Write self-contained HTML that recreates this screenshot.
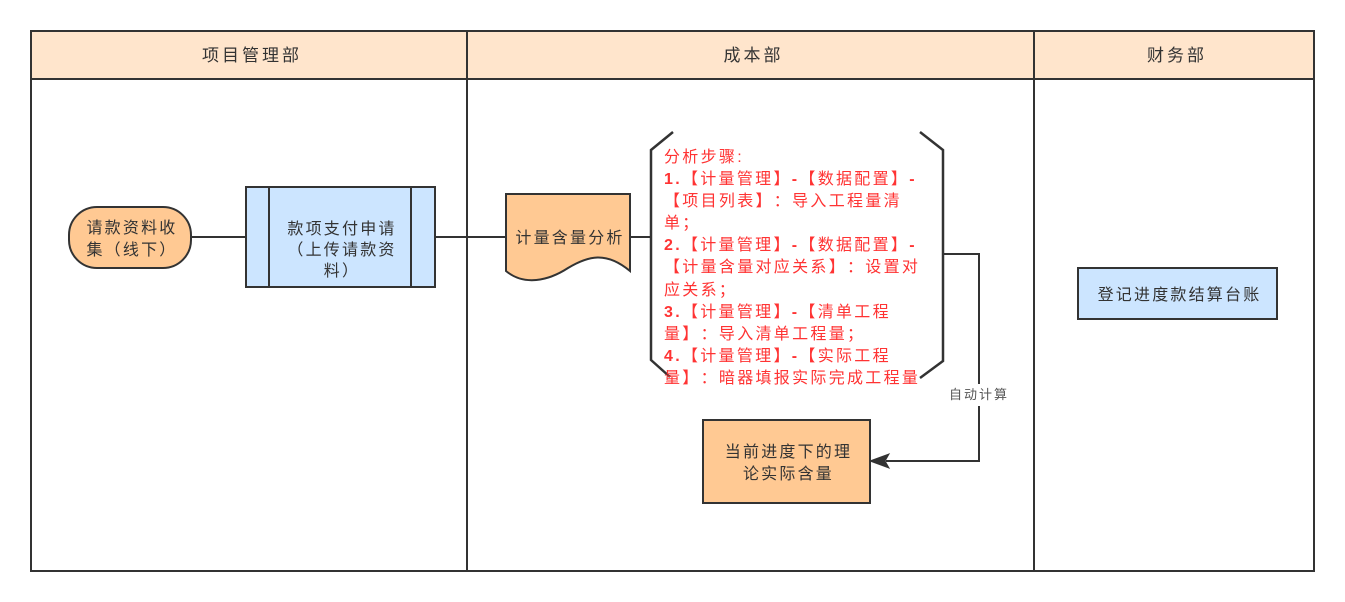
<!DOCTYPE html>
<html>
<head>
<meta charset="utf-8">
<style>
  html,body{margin:0;padding:0;background:#fff;}
  body{width:1345px;height:602px;position:relative;overflow:hidden;
       font-family:"Liberation Sans","Noto Sans CJK SC",sans-serif;text-spacing-trim:space-all;}
  svg{position:absolute;left:0;top:0;}
  .t{position:absolute;color:#333;font-size:16px;letter-spacing:2.2px;text-align:center;white-space:nowrap;line-height:21px;text-spacing-trim:space-all;}
  .h{position:absolute;color:#333;font-size:17px;letter-spacing:3px;text-align:center;white-space:nowrap;top:45px;line-height:22px;}
  .red{position:absolute;left:664px;top:147px;color:#ff3333;font-size:16px;letter-spacing:2.3px;line-height:22.1px;white-space:nowrap;text-spacing-trim:space-all;}
  .red b{font-weight:bold;}
  .lbl{position:absolute;left:945px;top:384px;width:68px;height:22px;background:#fff;color:#555;font-size:13px;letter-spacing:2px;line-height:22px;text-align:center;white-space:nowrap;}
</style>
</head>
<body>
<svg width="1345" height="602" viewBox="0 0 1345 602">
  <rect x="31" y="31" width="1283" height="48" fill="#ffe5cc"/>
  <rect x="31" y="31" width="1283" height="540" fill="none" stroke="#333" stroke-width="2"/>
  <line x1="31" y1="79" x2="1314" y2="79" stroke="#333" stroke-width="2"/>
  <line x1="467" y1="31" x2="467" y2="571" stroke="#333" stroke-width="2"/>
  <line x1="1034" y1="31" x2="1034" y2="571" stroke="#333" stroke-width="2"/>

  <line x1="191" y1="237" x2="245" y2="237" stroke="#333" stroke-width="2"/>
  <line x1="435" y1="237" x2="506" y2="237" stroke="#333" stroke-width="2"/>
  <line x1="630" y1="237" x2="650" y2="237" stroke="#333" stroke-width="2"/>
  <polyline points="943,254 979,254 979,461 886,461" fill="none" stroke="#333" stroke-width="2"/>
  <polygon points="870,461 889,454 885,461 889,468" fill="#333" stroke="#333" stroke-width="1"/>

  <rect x="69" y="207" width="122" height="61" rx="28" ry="28" fill="#ffc993" stroke="#333" stroke-width="2"/>

  <rect x="246" y="187" width="189" height="100" fill="#cce5ff" stroke="#333" stroke-width="2"/>
  <line x1="269" y1="187" x2="269" y2="287" stroke="#333" stroke-width="2"/>
  <line x1="411" y1="187" x2="411" y2="287" stroke="#333" stroke-width="2"/>

  <path d="M506,194 H630 V271 C606,251 588,256 568,268 C548,281 524,286 506,271 Z" fill="#ffc993" stroke="#333" stroke-width="2"/>

  <polyline points="673,132 651,150 651,360 670,377" fill="none" stroke="#333" stroke-width="2.5"/>
  <polyline points="920,132 943,150 943,361 920,378" fill="none" stroke="#333" stroke-width="2.5"/>

  <rect x="703" y="420" width="167" height="83" fill="#ffc993" stroke="#333" stroke-width="2"/>

  <rect x="1078" y="268" width="199" height="51" fill="#cce5ff" stroke="#333" stroke-width="2"/>
</svg>

<div class="h" style="left:31px;width:436px;padding-left:3px;">项目管理部</div>
<div class="h" style="left:467px;width:567px;padding-left:3px;">成本部</div>
<div class="h" style="left:1034px;width:280px;padding-left:3px;">财务部</div>

<div class="t" style="left:69px;top:218px;width:122px;padding-left:2px;line-height:22px;">请款资料收<br>集（线下）</div>
<div class="t" style="left:269px;top:219px;width:142px;padding-left:2px;">款项支付申请<br>（上传请款资<br>料）</div>
<div class="t" style="left:506px;top:228px;width:124px;padding-left:2px;">计量含量分析</div>
<div class="t" style="left:703px;top:442px;width:167px;padding-left:2px;line-height:22px;">当前进度下的理<br>论实际含量</div>
<div class="t" style="left:1078px;top:285px;width:199px;padding-left:2px;">登记进度款结算台账</div>

<div class="red">分析步骤:<br><b>1.</b>【计量管理】<b>-</b>【数据配置】<b>-</b><br>【项目列表】：导入工程量清<br>单；<br><b>2.</b>【计量管理】<b>-</b>【数据配置】<b>-</b><br>【计量含量对应关系】：设置对<br>应关系；<br><b>3.</b>【计量管理】<b>-</b>【清单工程<br>量】：导入清单工程量；<br><b>4.</b>【计量管理】<b>-</b>【实际工程<br>量】：暗器填报实际完成工程量</div>

<div class="lbl">自动计算</div>
</body>
</html>
